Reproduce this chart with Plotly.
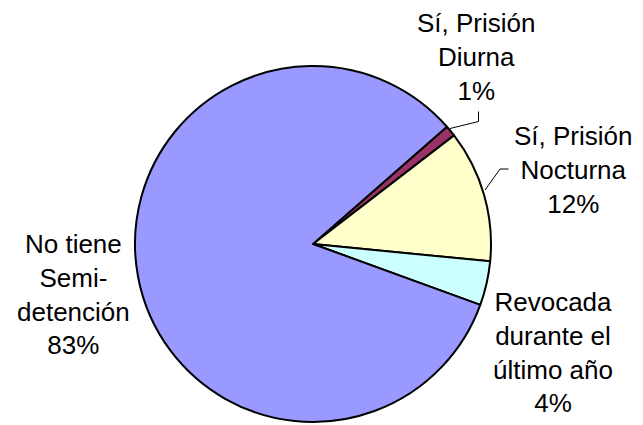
import plotly.graph_objects as go

# Semi-detención status breakdown (percent)
categories = ["Sí, Prisión Diurna", "Sí, Prisión Nocturna",
              "Revocada durante el último año", "No tiene Semi-detención"]
shares = [1, 12, 4, 83]
slice_colors = ["#993366", "#FFFFCC", "#CCFFFF", "#9999FF"]
label_lines = [["Sí, Prisión", "Diurna"],
               ["Sí, Prisión", "Nocturna"],
               ["Revocada", "durante el", "último año"],
               ["No tiene", "Semi-", "detención"]]

W, H = 643, 425

# pie placement in pixels: centre and radius
cx, cy, r = 313, 244, 178

fig = go.Figure(go.Pie(
    labels=categories,
    values=shares,
    sort=False,
    direction="clockwise",
    rotation=48.8,
    marker=dict(colors=slice_colors, line=dict(color="black", width=2)),
    textinfo="none",
    hoverinfo="label+percent",
    showlegend=False,
    domain=dict(x=[(cx - r) / W, (cx + r) / W],
                y=[1 - (cy + r) / H, 1 - (cy - r) / H]),
))

# label block centres (pixels)
label_pos = [(477, 57), (573, 170), (553, 352), (73, 294)]

for lines, share, (px, py) in zip(label_lines, shares, label_pos):
    text = "<br>".join(lines + [f"{share}%"])
    fig.add_annotation(
        x=px / W, y=1 - py / H, xref="paper", yref="paper",
        text=text, showarrow=False, xanchor="center", yanchor="middle",
        align="center",
        font=dict(family="Liberation Sans, Arial, sans-serif", size=26, color="black"),
    )

# leader lines for the two upper labels
leaders = [
    [(450, 128.5), (478.5, 121.5), (478.5, 111.5)],
    [(485, 190), (500, 169), (508.5, 169)],
]
for pts in leaders:
    path = "M " + " L ".join(f"{x / W},{1 - y / H}" for x, y in pts)
    fig.add_shape(type="path", path=path, xref="paper", yref="paper",
                  line=dict(color="black", width=1))

fig.update_layout(
    width=W, height=H,
    margin=dict(l=0, r=0, t=0, b=0),
    paper_bgcolor="white", plot_bgcolor="white",
)

fig.write_html("out.html")
